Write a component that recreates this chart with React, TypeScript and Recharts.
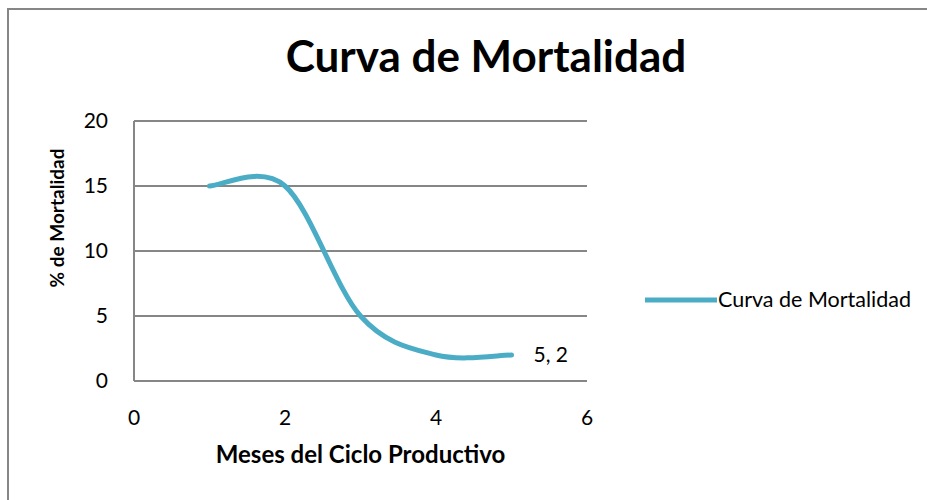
import React from 'react';
import { LineChart, Line, XAxis, YAxis, CartesianGrid, LabelList } from 'recharts';

const months = [1, 2, 3, 4, 5];
const mortality = [15, 15, 5, 2, 2];
const xTicks = [0, 2, 4, 6];
const yTicks = [0, 5, 10, 15, 20];
const seriesName = 'Curva de Mortalidad';

const FONT = 'Lato, "Open Sans", sans-serif';
const LINE_COLOR = '#4BACC6';
const GRID_COLOR = '#868686';

// Excel-style smoothed line (Catmull-Rom through the points)
const excelSmooth = (context: any) => {
  let pts: [number, number][] = [];
  return {
    areaStart() {},
    areaEnd() {},
    lineStart() {
      pts = [];
    },
    lineEnd() {
      if (!pts.length) return;
      context.moveTo(pts[0][0], pts[0][1]);
      for (let i = 0; i < pts.length - 1; i++) {
        const p0 = pts[Math.max(i - 1, 0)];
        const p1 = pts[i];
        const p2 = pts[i + 1];
        const p3 = pts[Math.min(i + 2, pts.length - 1)];
        context.bezierCurveTo(
          p1[0] + (p2[0] - p0[0]) / 6,
          p1[1] + (p2[1] - p0[1]) / 6,
          p2[0] - (p3[0] - p1[0]) / 6,
          p2[1] - (p3[1] - p1[1]) / 6,
          p2[0],
          p2[1]
        );
      }
    },
    point(x: number, y: number) {
      pts.push([x, y]);
    },
  };
};

const data = months.map((m, i) => ({
  mes: m,
  mortalidad: mortality[i],
  label: i === months.length - 1 ? `${m}, ${mortality[i]}` : '',
}));

const renderPointLabel = (props: any) => {
  const { x, y, value } = props;
  if (!value) return null;
  return (
    <text x={x + 22} y={y + 2} fontFamily={FONT} fontSize={21} fill="#000" dominantBaseline="middle">
      {value}
    </text>
  );
};

export default function App() {
  return (
    <div style={{ position: 'absolute', left: 0, top: 0, width: 927, height: 500, overflow: 'hidden', background: '#fff' }}>
      <div
        style={{
          position: 'absolute',
          left: 7,
          top: 8,
          width: 960,
          height: 520,
          border: `2px solid ${GRID_COLOR}`,
          boxSizing: 'border-box',
        }}
      />
      <svg width={927} height={500} style={{ position: 'absolute', left: 0, top: 0 }}>
        <text x={486} y={72} textAnchor="middle" fontFamily={FONT} fontWeight="bold" fontSize={44} fill="#000">
          Curva de Mortalidad
        </text>
        <text
          x={0}
          y={0}
          transform="translate(64, 218) rotate(-90)"
          textAnchor="middle"
          fontFamily={FONT}
          fontWeight="bold"
          fontSize={19}
          fill="#000"
        >
          % de Mortalidad
        </text>
        {/* legend */}
        <line x1={645} y1={300} x2={717} y2={300} stroke={LINE_COLOR} strokeWidth={5} />
        <text x={718} y={307} fontFamily={FONT} fontSize={21.5} fill="#000">
          {seriesName}
        </text>
      </svg>
      <div style={{ position: 'absolute', left: 0, top: 0 }}>
        <LineChart width={927} height={500} data={data} margin={{ top: 121, right: 340, left: 74, bottom: 29 }}>
          <CartesianGrid horizontal vertical={false} stroke={GRID_COLOR} strokeWidth={2} />
          <XAxis
            dataKey="mes"
            type="number"
            domain={[0, 6]}
            ticks={xTicks}
            height={90}
            axisLine={{ stroke: GRID_COLOR, strokeWidth: 2 }}
            tickLine={false}
            tickSize={0}
            tickMargin={29}
            tick={{ fill: '#000', fontSize: 21, fontFamily: FONT }}
            label={{
              value: 'Meses del Ciclo Productivo',
              position: 'insideBottom',
              offset: 8,
              fill: '#000',
              fontSize: 24,
              fontWeight: 'bold',
              fontFamily: FONT,
            }}
          />
          <YAxis
            domain={[0, 20]}
            ticks={yTicks}
            width={60}
            axisLine={{ stroke: GRID_COLOR, strokeWidth: 2 }}
            tickLine={false}
            tickSize={0}
            tickMargin={26}
            tick={{ fill: '#000', fontSize: 21, fontFamily: FONT }}
          />
          <Line
            name={seriesName}
            dataKey="mortalidad"
            type={excelSmooth as any}
            stroke={LINE_COLOR}
            strokeWidth={5}
            strokeLinecap="round"
            dot={false}
            activeDot={false}
            isAnimationActive={false}
          >
            <LabelList dataKey="label" content={renderPointLabel} />
          </Line>
        </LineChart>
      </div>
    </div>
  );
}
